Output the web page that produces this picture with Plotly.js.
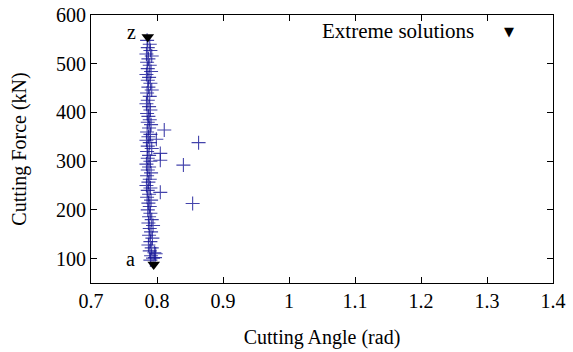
<!DOCTYPE html>
<html>
<head>
<meta charset="utf-8">
<script src="https://cdn.plot.ly/plotly-3.0.1.min.js"></script>
<style>html,body{margin:0;padding:0;background:#fff;}#chart{width:573px;height:352px;}</style>
</head>
<body>
<div id="chart"></div>
<script>
// Pareto solutions: cutting angle (rad) vs cutting force (kN)
const solAngle = [
  0.785,0.789,0.786,0.790,0.784,0.792,0.787,0.785,0.789,0.786,
  0.791,0.784,0.788,0.786,0.790,0.787,0.792,0.785,0.789,0.786,
  0.784,0.788,0.790,0.785,0.787,0.789,0.786,0.791,0.788,0.785,
  0.790,0.787,0.784,0.789,0.786,0.792,0.785,0.788,0.786,0.790,
  0.784,0.788,0.786,0.791,0.785,0.789,0.787,0.784,0.790,0.786,
  0.788,0.785,0.791,0.787,0.789,0.786,0.790,0.788,0.792,0.787,
  0.794,0.789,0.791,0.788,0.793,0.790,0.787,0.792,0.789,0.796,
  0.791,0.794,0.790,
  0.811,0.863,0.799,0.805,0.805,0.840,0.805,0.854,0.798,0.797
];
const solForce = [
  548,540,533,527,520,516,510,503,497,490,
  484,478,472,466,460,452,446,440,433,425,
  418,412,405,398,392,385,380,375,368,360,
  355,350,343,338,331,326,320,312,306,300,
  294,288,282,276,270,263,257,250,245,240,
  232,226,220,214,207,200,193,186,180,173,
  168,162,155,148,142,135,128,122,116,112,
  106,101,97,
  364,338,345,316,302,292,236,213,110,102
];
const extremeAngle = [0.786, 0.795];
const extremeForce = [555, 88];
const extremeLabels = ['z', 'a'];
const xTicks = [0.7, 0.8, 0.9, 1, 1.1, 1.2, 1.3, 1.4];
const xTickText = ['0.7','0.8','0.9','1','1.1','1.2','1.3','1.4'];
const yTicks = [100, 200, 300, 400, 500, 600];

const FONT = "'Liberation Serif', 'Times New Roman', 'DejaVu Serif', serif";
const labelShift = [-10, -17];

const traces = [
  {
    x: solAngle, y: solForce, type: 'scatter', mode: 'markers',
    name: 'Solutions', showlegend: false,
    marker: {symbol: 'cross-thin-open', size: 10, color: 'rgba(20,20,150,0.8)', line: {width: 1.1, color: 'rgba(20,20,150,0.8)'}},
    cliponaxis: false
  },
  {
    x: extremeAngle, y: extremeForce, type: 'scatter', mode: 'markers',
    name: 'Extreme solutions', showlegend: false,
    marker: {symbol: 'triangle-down', size: 11, color: '#000'},
    cliponaxis: false
  }
];

const annotations = extremeLabels.map((t, i) => ({
  x: extremeAngle[i], y: extremeForce[i], xref: 'x', yref: 'y',
  text: t, showarrow: false, xanchor: 'right', xshift: labelShift[i], yshift: 5,
  font: {family: FONT, size: 20, color: '#000'}
}));
annotations.push({
  x: 0.833, y: 0.94, xref: 'paper', yref: 'paper', xanchor: 'right', yanchor: 'middle',
  text: 'Extreme solutions', showarrow: false,
  font: {family: FONT, size: 21, color: '#000'}
});
annotations.push({
  x: 0.905, y: 0.94, xref: 'paper', yref: 'paper', xanchor: 'center', yanchor: 'middle',
  text: '▼', showarrow: false,
  font: {family: 'DejaVu Sans', size: 13, color: '#000'}
});

const layout = {
  width: 573, height: 352,
  margin: {l: 91, r: 20, t: 15, b: 69},
  paper_bgcolor: '#fff', plot_bgcolor: '#fff',
  font: {family: FONT, size: 20, color: '#000'},
  showlegend: false,
  xaxis: {
    range: [0.7, 1.4], tickvals: xTicks, ticktext: xTickText,
    ticks: 'inside', ticklen: 6, tickwidth: 1, tickcolor: '#000',
    showline: true, linecolor: '#000', linewidth: 1, mirror: 'ticks',
    showgrid: false, zeroline: false,
    tickfont: {family: FONT, size: 20},
    title: {text: 'Cutting Angle (rad)', font: {family: FONT, size: 20}, standoff: 18}
  },
  yaxis: {
    range: [50, 600], tickvals: yTicks,
    ticks: 'inside', ticklen: 6, tickwidth: 1, tickcolor: '#000',
    showline: true, linecolor: '#000', linewidth: 1, mirror: 'ticks',
    showgrid: false, zeroline: false,
    tickfont: {family: FONT, size: 20},
    title: {text: 'Cutting Force (kN)', font: {family: FONT, size: 20}, standoff: 24}
  },
  annotations: annotations
};

Plotly.newPlot('chart', traces, layout, {displayModeBar: false, staticPlot: true});
</script>
</body>
</html>
